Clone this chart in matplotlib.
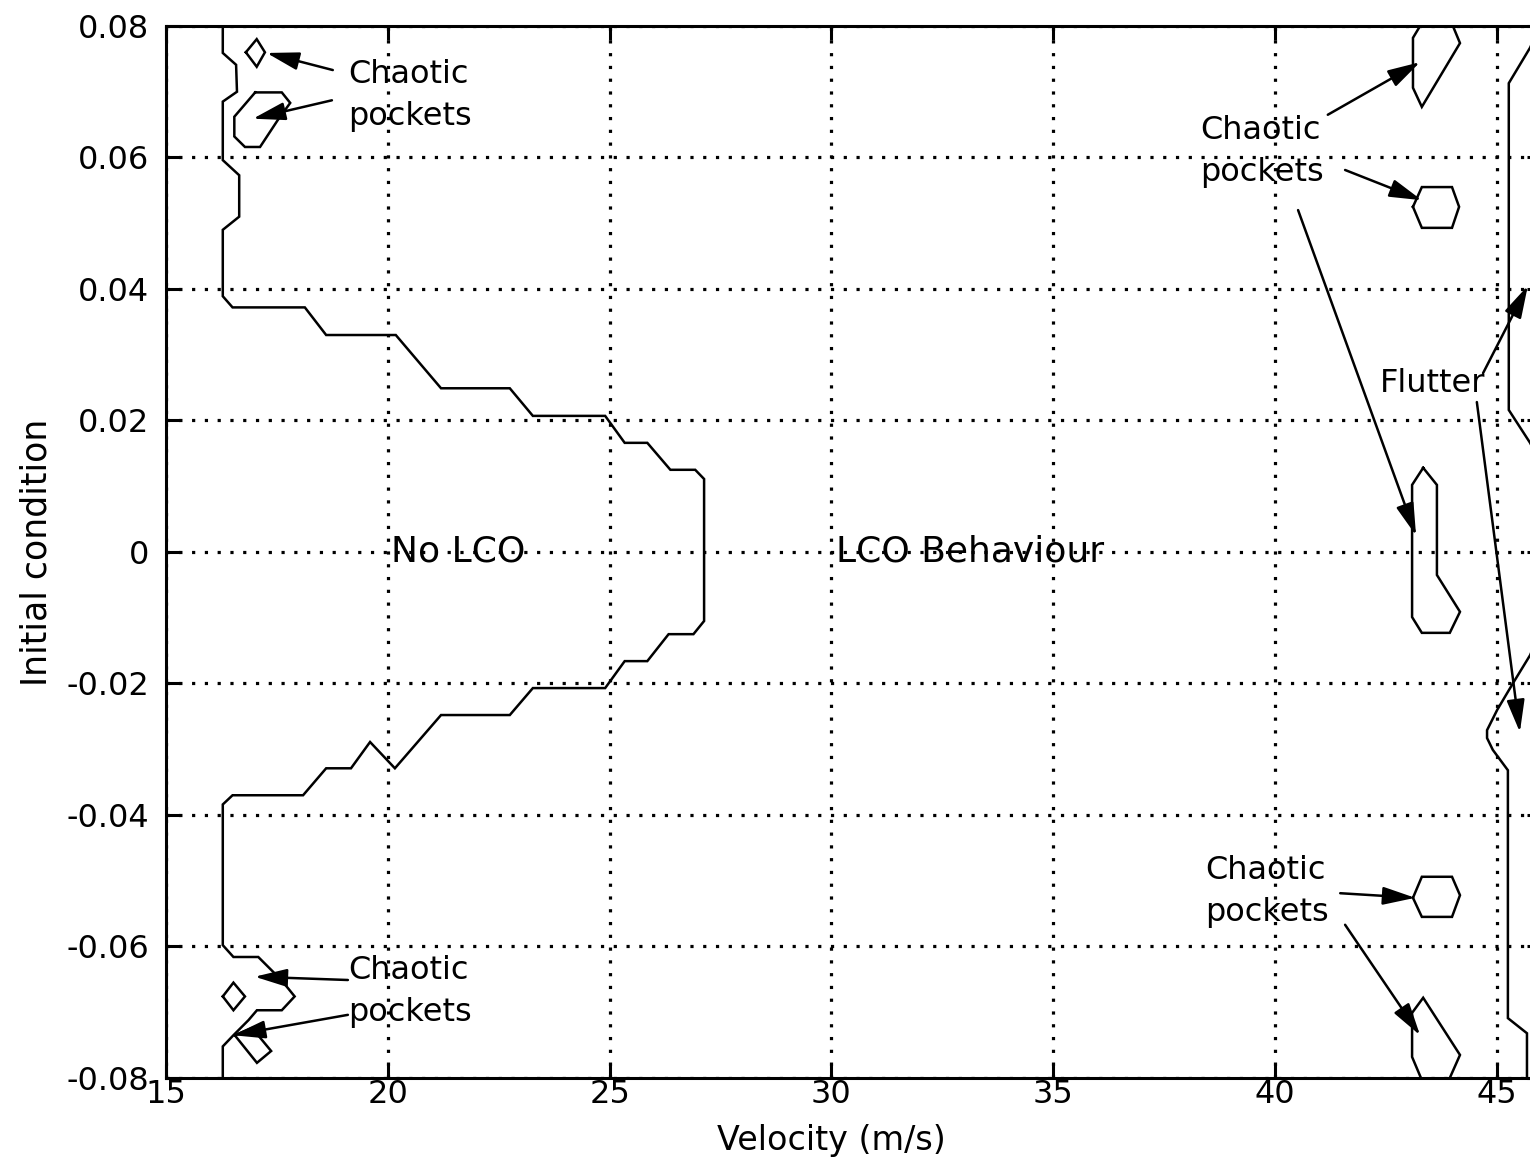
import matplotlib
matplotlib.use("Agg")
import matplotlib.pyplot as plt

# Velocity range and initial-condition range
x_ticks = [15, 20, 25, 30, 35, 40, 45]
y_ticks = [-0.08, -0.06, -0.04, -0.02, 0, 0.02, 0.04, 0.06, 0.08]
y_tick_labels = ["-0.08", "-0.06", "-0.04", "-0.02", "0", "0.02", "0.04", "0.06", "0.08"]

# LCO onset boundary (No LCO | LCO Behaviour)
onset_v = [16.28, 16.28, 16.58, 16.6, 16.28, 16.28, 16.65, 16.65, 16.28, 16.28, 16.5,
           18.13, 18.61, 20.18, 21.2, 22.75, 23.27, 24.9, 25.34, 25.85, 26.37, 26.93,
           27.13, 27.13, 26.89, 26.33, 25.85, 25.34, 24.9, 23.27, 22.75, 21.2, 20.16,
           19.6, 19.17, 18.61, 18.09, 16.5, 16.28, 16.28, 16.52, 17.08, 17.6, 17.9,
           17.61, 17.05, 16.86, 16.52, 16.28, 16.28]
onset_ic = [0.080, 0.0759, 0.0741, 0.0700, 0.0685, 0.0596, 0.0573, 0.0510, 0.0490, 0.0389,
            0.0372, 0.0372, 0.0330, 0.0330, 0.0249, 0.0249, 0.0207, 0.0207, 0.0166, 0.0166,
            0.0125, 0.0125, 0.0111, -0.0105, -0.0125, -0.0125, -0.0166, -0.0166, -0.0207,
            -0.0207, -0.0248, -0.0248, -0.0329, -0.0289, -0.0329, -0.0329, -0.0370, -0.0370,
            -0.0384, -0.0598, -0.0616, -0.0616, -0.0651, -0.0676, -0.0697, -0.0697, -0.0712,
            -0.0735, -0.0752, -0.080]

# Chaotic pockets near the onset boundary
pocket_tl1_v = [16.80, 17.045, 17.23, 17.045, 16.80]
pocket_tl1_ic = [0.0760, 0.0780, 0.0760, 0.0738, 0.0760]
pocket_tl2_v = [17.01, 17.61, 17.80, 17.52, 17.12, 16.78, 16.54, 16.54, 17.01]
pocket_tl2_ic = [0.0699, 0.0699, 0.0683, 0.0657, 0.0616, 0.0616, 0.0632, 0.0662, 0.0699]
pocket_bl1_v = [16.28, 16.52, 16.78, 16.52, 16.28]
pocket_bl1_ic = [-0.0676, -0.0655, -0.0676, -0.0697, -0.0676]
pocket_bl2_v = [16.55, 17.05, 17.37, 16.94, 16.55]
pocket_bl2_ic = [-0.0735, -0.0777, -0.0759, -0.0724, -0.0735]

# Chaotic pockets near the flutter boundary
pocket_r1_v = [43.27, 43.11, 43.11, 43.31, 44.17, 44.01]
pocket_r1_ic = [0.080, 0.0782, 0.0706, 0.0677, 0.0774, 0.080]
pocket_r2_v = [43.11, 43.31, 43.99, 44.15, 43.99, 43.31, 43.11]
pocket_r2_ic = [0.0525, 0.0555, 0.0555, 0.0525, 0.0493, 0.0493, 0.0525]
pocket_r3_v = [43.34, 43.65, 43.65, 44.17, 43.94, 43.31, 43.09, 43.09, 43.34]
pocket_r3_ic = [0.0128, 0.0102, -0.0035, -0.0091, -0.0123, -0.0123, -0.0099, 0.0102, 0.0128]
pocket_r4_v = [43.11, 43.31, 43.99, 44.17, 43.99, 43.31, 43.11]
pocket_r4_ic = [-0.0526, -0.0494, -0.0494, -0.0522, -0.0555, -0.0555, -0.0526]
pocket_r5_v = [43.29, 43.09, 43.09, 43.34, 44.17, 43.94]
pocket_r5_ic = [-0.080, -0.0768, -0.0701, -0.0678, -0.0765, -0.080]

# Flutter boundary
flutter_a_v = [45.95, 45.75, 45.27, 45.27, 45.75, 45.95]
flutter_a_ic = [0.0797, 0.0767, 0.0713, 0.0216, 0.0166, 0.0140]
flutter_b_v = [45.95, 45.75, 45.37, 45.01, 44.78, 44.78, 44.91, 45.25, 45.25, 45.68, 45.68]
flutter_b_ic = [-0.0125, -0.0157, -0.0199, -0.0240, -0.0271, -0.0283, -0.0301, -0.0332,
                -0.0709, -0.0732, -0.080]

fig = plt.figure(figsize=(15.3, 11.66), dpi=100)
ax = fig.add_axes([0.1085, 0.0755, 0.8988, 0.9022])
ax.set_xlim(15, 46)
ax.set_ylim(-0.08, 0.08)

lw = 1.8
curves = [(onset_v, onset_ic), (pocket_tl1_v, pocket_tl1_ic), (pocket_tl2_v, pocket_tl2_ic),
          (pocket_bl1_v, pocket_bl1_ic), (pocket_bl2_v, pocket_bl2_ic),
          (pocket_r1_v, pocket_r1_ic), (pocket_r2_v, pocket_r2_ic), (pocket_r3_v, pocket_r3_ic),
          (pocket_r4_v, pocket_r4_ic), (pocket_r5_v, pocket_r5_ic),
          (flutter_a_v, flutter_a_ic), (flutter_b_v, flutter_b_ic)]
for xs, ys in curves:
    ax.plot(xs, ys, color="black", lw=lw, solid_joinstyle="miter")

ax.set_xticks(x_ticks)
ax.set_yticks(y_ticks)
ax.set_yticklabels(y_tick_labels)
ax.grid(True, color="black", linestyle=(0, (1, 3)), linewidth=2.3)
ax.tick_params(direction="in", length=10, width=2.2, labelsize=23, top=True, right=True)
ax.tick_params(axis="y", pad=12)
ax.tick_params(axis="x", pad=1)
for side in ("left", "top", "bottom"):
    ax.spines[side].set_linewidth(2.2)
ax.spines["right"].set_visible(False)

ax.set_xlabel("Velocity (m/s)", fontsize=24)
ax.xaxis.set_label_coords((30 - 15) / 31, -0.044)
ax.set_ylabel("Initial condition", fontsize=25)
ax.yaxis.set_label_coords(-0.082, 0.5)

txt = dict(fontsize=23, color="black", linespacing=1.45)
ax.text(19.10, 0.0694, "Chaotic\npockets", ha="left", va="center", **txt)
ax.text(38.31, 0.0609, "Chaotic\npockets", ha="left", va="center", **txt)
ax.text(38.42, -0.0516, "Chaotic\npockets", ha="left", va="center", **txt)
ax.text(19.10, -0.0669, "Chaotic\npockets", ha="left", va="center", **txt)
ax.text(42.37, 0.0257, "Flutter", ha="left", va="center", fontsize=23)
ax.text(21.58, 0.0, "No LCO", ha="center", va="center", fontsize=26)
ax.text(33.12, 0.0, "LCO Behaviour", ha="center", va="center", fontsize=26)

arrows = [
    ((18.76, 0.0733), (17.27, 0.0759)),
    ((18.74, 0.0687), (16.96, 0.0659)),
    ((41.19, 0.0665), (43.27, 0.0745)),
    ((41.58, 0.0581), (43.31, 0.0535)),
    ((40.52, 0.0520), (43.18, 0.0025)),
    ((44.69, 0.0272), (45.70, 0.0405)),
    ((44.55, 0.0228), (45.52, -0.0274)),
    ((41.47, -0.0519), (43.16, -0.0526)),
    ((41.58, -0.0567), (43.27, -0.0735)),
    ((19.10, -0.0651), (17.00, -0.0646)),
    ((19.10, -0.0704), (16.51, -0.0735)),
]
for tail, tip in arrows:
    ax.annotate("", xy=tip, xytext=tail,
                arrowprops=dict(arrowstyle="-|>,head_length=0.9,head_width=0.25",
                                color="black", lw=1.8, shrinkA=0, shrinkB=0,
                                mutation_scale=22))

fig.savefig("out.png", dpi=100)
